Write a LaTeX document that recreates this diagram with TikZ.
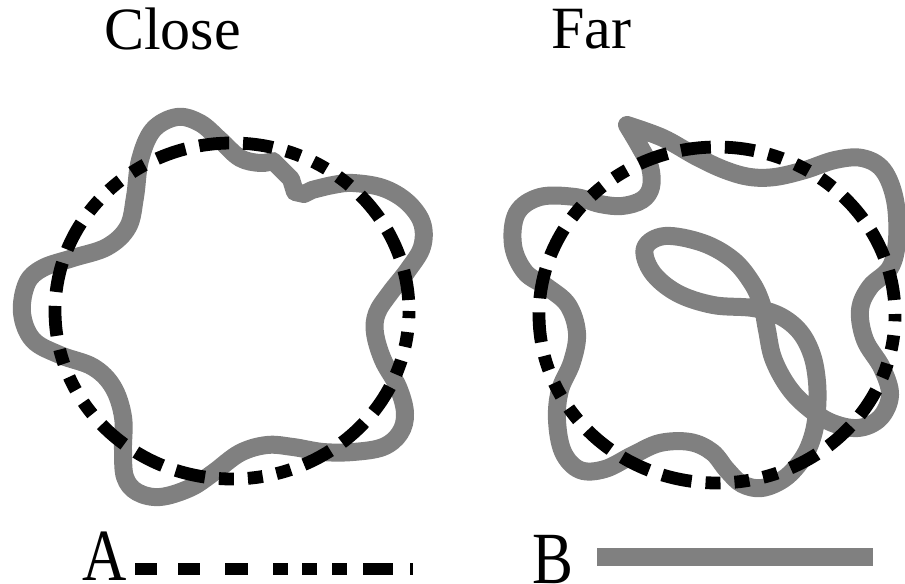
\documentclass[tikz,border=0pt]{standalone}
\usepackage{fontspec}
\setmainfont{Liberation Serif}
\newfontfamily\labelserif{Liberation Serif}
\definecolor{strandgrey}{RGB}{128,128,128}
\tikzset{
  greystrand/.style={draw=strandgrey, line width=13.5pt, line cap=round, line join=round},
  ringdash/.style={draw=black, line width=9.6pt, line cap=butt,
    dash pattern=on 22.5pt off 10.5pt on 22.5pt off 10.5pt on 22.5pt off 10.5pt on 11.25pt off 10.5pt on 11.25pt off 10.5pt on 11.25pt off 10.5pt},
  legenddash/.style={draw=black, line width=9.4pt, line cap=butt,
    dash pattern=on 16.5pt off 15.75pt on 16.5pt off 18.75pt on 17.25pt off 18.75pt on 11.25pt off 10.5pt on 11.25pt off 11.25pt on 11.25pt off 12pt on 22.5pt off 12.75pt},
  legendgrey/.style={draw=strandgrey, line width=13.5pt, line cap=butt},
  title/.style={anchor=base west, inner sep=0pt, font=\labelserif\fontsize{45}{45}\selectfont},
  keylabel/.style={anchor=base west, inner sep=0pt, font=\labelserif\fontsize{46}{46}\selectfont}
}
\begin{document}
\begin{tikzpicture}[x=0.75pt, y=-0.75pt]
\useasboundingbox (0,0) rectangle (905,584);

% titles
\node[title] (close) at (104,50) {Close};
\node[title] (far) at (551,49) {Far};

% ---- left: Close ----
\draw[greystrand] plot[smooth, tension=0.6] coordinates {
 (312,190) (333,185) (353,183) (383,188) (407,202) (422,223) (422,247) (408,270)
 (390,293) (377,313) (375,333) (383,360) (398,387) (405,413) (400,433) (383,447)
 (353,452) (323,452) (293,447) (267,445) (240,453) (213,473) (190,488) (160,497)
 (137,492) (125,477) (123,450) (123,417) (113,387) (93,367) (60,355) (33,340)
 (22,313) (27,283) (43,268) (73,258) (107,247) (128,227) (135,197) (140,160)
 (153,130) (177,117) (200,123) (220,140) (240,158) (260,163) (273,161)}
 -- (291,179) -- (295,192) -- (304,194) -- cycle;
\draw[ringdash, dash phase=156pt] (232,311) ellipse [x radius=132.75pt, y radius=126pt];

% ---- right: Far ----
\draw[greystrand] plot[smooth, tension=0.6] coordinates {
 (627,125) (663,138) (697,157) (725,170) (750,177) (775,177) (805,170) (835,160)
 (862,158) (883,170) (895,200) (897,240) (890,268) (870,287) (860,310) (865,340)
 (882,368) (890,395) (880,418) (858,428) (830,422) (805,405) (787,385) (773,358)
 (767,330) (762,305) (752,283) (733,260) (703,243) (665,236) (645,248) (652,272)
 (677,293) (713,305) (753,308) (780,316) (800,332) (812,355) (817,382) (817,410)
 (813,435) (803,458) (785,478) (762,488) (742,484) (727,470) (712,452) (690,442)
 (660,443) (633,455) (605,469) (580,470) (563,452) (557,420) (560,390) (572,362)
 (577,333) (568,305) (547,287) (525,272) (513,245) (517,213) (540,197) (575,197)
 (600,204) (622,206) (642,200) (651,187) (650,167) (640,147) (627,125)};
\draw[ringdash, dash phase=153pt] (717,315) ellipse [x radius=133.5pt, y radius=126pt];

% ---- legend ----
\node[keylabel] (keyA) at (82,580) {\scalebox{1}[1.2]{A}};
\coordinate (a1) at (135,569);
\coordinate (a2) at (413,569);
\draw[legenddash] (a1) -- (a2);

\node[keylabel] (keyB) at (532,583) {\scalebox{1}[1.2]{B}};
\coordinate (b1) at (597,557);
\coordinate (b2) at (873,557);
\draw[legendgrey] (b1) -- (b2);
\end{tikzpicture}
\end{document}
